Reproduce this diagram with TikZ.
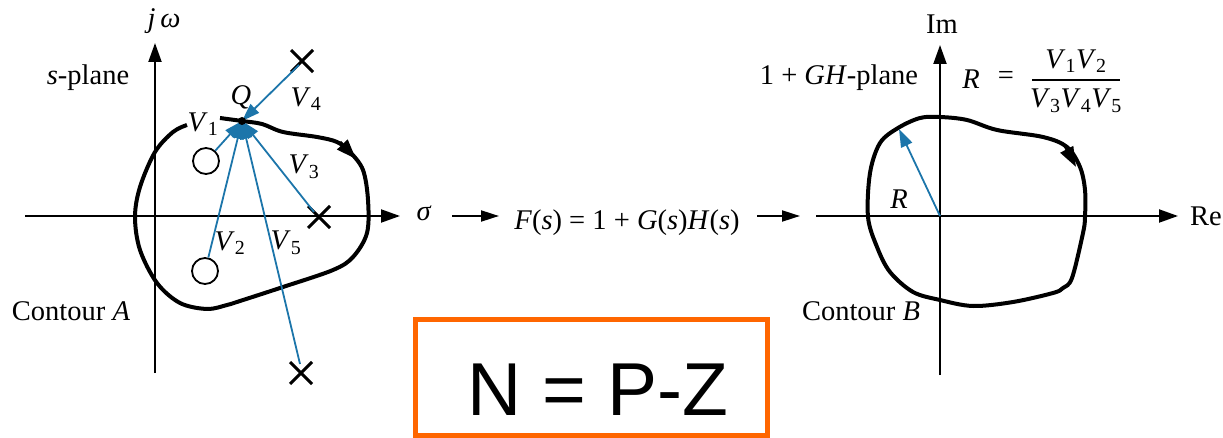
\documentclass[tikz,border=0pt]{standalone}
\usepackage{fontspec}
\setmainfont{Liberation Serif}
\newfontfamily\arialf{Liberation Sans}
\usetikzlibrary{arrows.meta,shapes.misc}
\definecolor{vblue}{RGB}{28,117,170}
\definecolor{borange}{RGB}{255,102,0}
\begin{document}
\begin{tikzpicture}[x=1pt,y=-1pt,
  every node/.style={font=\fontsize{28.5}{32}\selectfont, inner sep=0pt},
  axis/.style={line width=2pt, -{Triangle[length=19pt,width=13pt]}},
  marrow/.style={line width=2pt, -{Triangle[length=18pt,width=11pt]}},
  contour/.style={line width=4pt, line join=round},
  cmark/.style={line width=3pt, -{Triangle[length=20pt,width=14pt]}},
  vec/.style={draw=vblue, line width=1.8pt, -{Triangle[length=18pt,width=12pt]}},
  zero/.style={circle, draw, line width=1.8pt, minimum size=26pt, fill=white},
  pole/.style={cross out, draw, line width=3pt, minimum size=19pt},
  nbox/.style={draw=borange, line width=5pt, minimum width=352pt, minimum height=115.5pt}
]
\useasboundingbox (0,0) rectangle (1223,438);

% ---------- left: s-plane ----------
\coordinate (jwb) at (155,373);
\coordinate (jwt) at (155,43);
\coordinate (sgl) at (25,216);
\coordinate (sgr) at (400,216);
\draw[axis] (jwb) -- (jwt);
\draw[axis] (sgl) -- (sgr);
\node (jw) at (164,21) {\textit{j\,ω}};
\node (sig) at (424,213) {\textit{σ}};
\node (splane) at (88,78) {\textit{s}-plane};
\node (contA) at (71,311) {Contour \textit{A}};

% contour A (open at V1 label)
\draw[contour] plot[smooth, tension=0.55] coordinates {
 (220,118) (242,121) (262,124) (283,132) (317,137) (337,142) (350,152)
 (363,170) (368,200) (367,233) (353,257) (333,270) (283,287) (240,301)
 (227,305) (207,309) (180,303) (157,283) (140,250) (135,217) (140,187)
 (155,152) (173,132) (187,125)};
\draw[cmark] (340,142) -- (356,159);

% zeros and poles
\node[zero] (z1) at (206,161) {};
\node[zero] (z2) at (205,271) {};
\node[pole] (p1) at (302,61) {};
\node[pole] (p2) at (319,217) {};
\node[pole] (p3) at (301,373) {};
\coordinate (Q) at (242,121);

\draw[vec] (z1) -- (Q);
\draw[vec] (z2) -- (Q);
\draw[vec] (p2.center) ++(-5,-5) coordinate (p2s) (p2s) -- (Q);
\draw[vec] (p1.center) ++(-3,4) coordinate (p1s) (p1s) -- (Q);
\draw[vec] (p3.center) ++(-1,-9) coordinate (p3s) (p3s) -- (Q);
\fill (Q) circle (4pt);

\node (Ql) at (241,97) {\textit{Q}};
\node (v1) at (203,124) {\textit{V}\textsubscript{1}};
\node (v2) at (230,243) {\textit{V}\textsubscript{2}};
\node (v3) at (304,167) {\textit{V}\textsubscript{3}};
\node (v4) at (306,99) {\textit{V}\textsubscript{4}};
\node (v5) at (286,243) {\textit{V}\textsubscript{5}};

% ---------- middle ----------
\coordinate (a1s) at (452,216);
\coordinate (a1e) at (499,216);
\coordinate (a2s) at (757,216);
\coordinate (a2e) at (800,216);
\draw[marrow] (a1s) -- (a1e);
\draw[marrow] (a2s) -- (a2e);
\node (F) at (627,223) {\textit{F}(\textit{s}) = 1 + \textit{G}(\textit{s})\textit{H}(\textit{s})};

% ---------- right: 1+GH-plane ----------
\coordinate (imb) at (940,375);
\coordinate (imt) at (940,45);
\coordinate (rel) at (816,216);
\coordinate (rer) at (1178,216);
\coordinate (O2) at (940,216);
\draw[axis] (imb) -- (imt);
\draw[axis] (rel) -- (rer);
\node (im) at (942,24) {Im};
\node (re) at (1206,216) {Re};
\node (ghp) at (839,78) {1 + \textit{GH}-plane};
\node (contB) at (861,311) {Contour \textit{B}};

\draw[contour] plot[smooth cycle, tension=0.55] coordinates {
 (940,117) (967,120) (997,130) (1043,137) (1067,147) (1080,167) (1085,190)
 (1085,217) (1083,233) (1072,278) (1063,288) (1053,293) (1013,302)
 (973,306) (940,300) (913,292) (890,272) (877,247) (868,217) (870,173)
 (880,143) (898,128) (920,118)};
\draw[cmark] (1065,146) -- (1076,167);

\coordinate (Rt) at (899,129);
\draw[vec] (O2) -- (Rt);
\node (Rl) at (899,199) {\textit{R}};

\node (Req) at (971,79) {\textit{R}};
\node (eq) at (1006,78) {=};
\node (num) at (1076,61) {\textit{V}\textsubscript{1}\textit{V}\textsubscript{2}};
\node (den) at (1076,101) {\textit{V}\textsubscript{3}\textit{V}\textsubscript{4}\textit{V}\textsubscript{5}};
\coordinate (barl) at (1032,80);
\coordinate (barr) at (1120,80);
\draw[line width=1.5pt] (barl) -- (barr);

% ---------- N = P - Z ----------
\node[nbox] (box) at (591.5,377.5) {};
\node[font=\arialf\fontsize{75}{80}\selectfont] (npz) at (598,390) {N = P-Z};
\end{tikzpicture}
\end{document}
